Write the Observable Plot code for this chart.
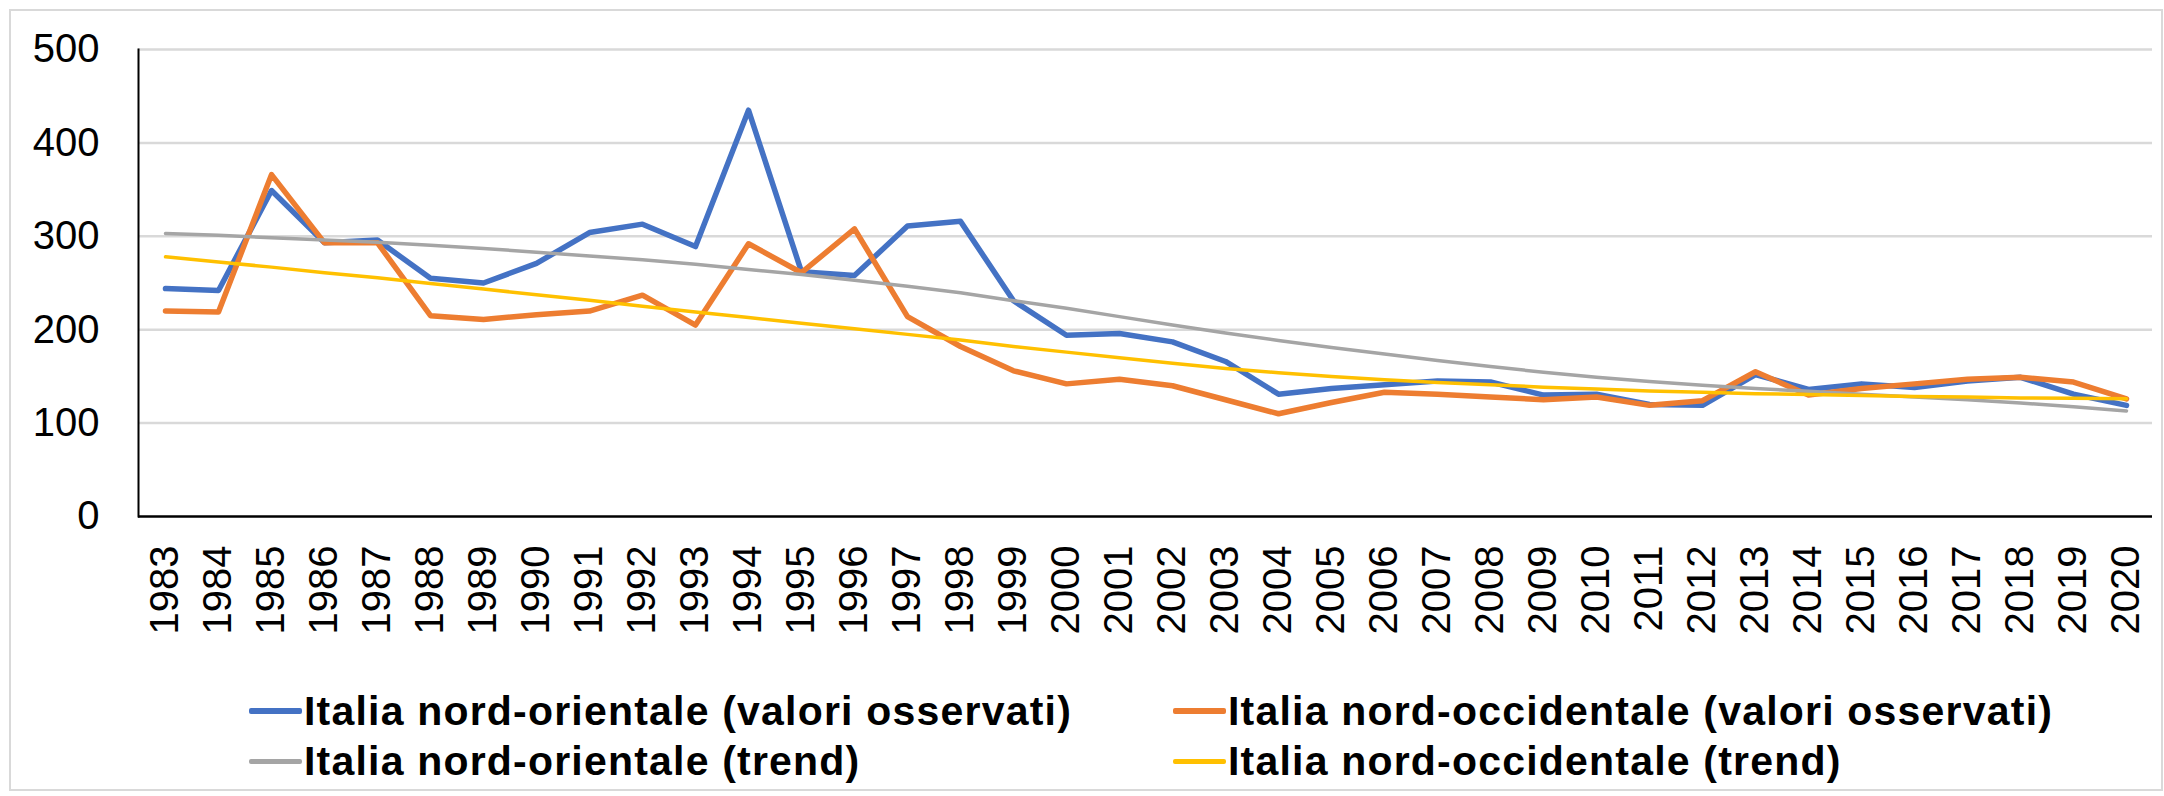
<!DOCTYPE html>
<html>
<head>
<meta charset="utf-8">
<script src="https://cdn.jsdelivr.net/npm/d3@7"></script>
<script src="https://cdn.jsdelivr.net/npm/@observablehq/plot@0.6"></script>
<style>
  html, body { margin: 0; padding: 0; background: #fff; }
  #wrap { position: relative; width: 2164px; height: 796px; overflow: hidden; font-family: "Liberation Sans", Arial, sans-serif; }
  #border { position: absolute; left: 9px; top: 9px; width: 2150px; height: 778px; border: 2px solid #d9d9d9; }
  #chart { position: absolute; left: 0; top: 0; }
  .item { position: absolute; display: flex; align-items: center; height: 50px; font-weight: bold; font-size: 41px; letter-spacing: 1.2px; color: #000; white-space: nowrap; }
  .sw { display: inline-block; width: 53px; margin-right: 2px; border-radius: 2px; }
</style>
</head>
<body>
<div id="wrap">
  <div id="border"></div>
  <div id="chart"></div>
  <div id="legend"></div>
</div>
<script>
const years = ["1983","1984","1985","1986","1987","1988","1989","1990","1991","1992","1993","1994","1995","1996","1997","1998","1999","2000","2001","2002","2003","2004","2005","2006","2007","2008","2009","2010","2011","2012","2013","2014","2015","2016","2017","2018","2019","2020"];

const nordOrientale = [244,242,349,293,296,255,250,271,304,313,289,435,262,258,311,316,231,194,196,187,166,131,137,141,145,144,130,131,120,119,152,136,142,138,145,149,131,119];
const nordOccidentale = [220,219,366,293,293,215,211,216,220,237,205,292,261,308,214,182,156,142,147,140,125,110,122,133,131,128,125,128,119,124,155,130,137,142,147,149,144,126];
const trendOrientale = [303,301,298.5,296,293.5,290.5,287,283,279,275,270,264.5,259,253,246.5,239.5,231,223,214,205,196.5,188.5,181,174,167,160.5,154.5,149,144.5,140.5,137,134,131,128,125,121.5,117.5,113];
const trendOccidentale = [278,272.5,267,261,255.5,249.5,243.5,237.5,231.5,225,219,213,207,201,195,189,182,176,170,164,158.5,154,150,146.5,143.5,141,138.5,136.5,134.5,133,131.5,130.5,129.5,128.5,128,127,126.5,126];

const seriesNames = [
  "Italia nord-orientale (valori osservati)",
  "Italia nord-occidentale (valori osservati)",
  "Italia nord-orientale (trend)",
  "Italia nord-occidentale (trend)"
];
const seriesColors = ["#4472C4", "#ED7D31", "#A5A5A5", "#FFC000"];
const yTicks = [0, 100, 200, 300, 400, 500];

const toRows = (vals) => years.map((y, i) => ({year: y, value: vals[i]}));

const lineOpts = (color, w) => ({x: "year", y: "value", stroke: color, strokeWidth: w, strokeLinejoin: "round", strokeLinecap: "round"});

const plot = Plot.plot({
  width: 2164,
  height: 660,
  marginLeft: 138,
  marginRight: 12,
  marginTop: 49,
  marginBottom: 144,
  style: {fontFamily: "'Liberation Sans', Arial, sans-serif", fontSize: "40px", color: "#000", background: "transparent"},
  x: {type: "point", domain: years, padding: 0.5, align: 0.5},
  y: {domain: [0, 500]},
  marks: [
    Plot.gridY(yTicks.filter(d => d > 0), {stroke: "#d9d9d9", strokeOpacity: 1, strokeWidth: 2.5}),
    Plot.axisY(yTicks, {tickSize: 0, tickPadding: 39, fontSize: 40, fill: "#000", label: null}),
    Plot.axisX({tickSize: 0, tickPadding: 29, tickRotate: -90, fontSize: 40, fill: "#000", label: null}),
    Plot.line(toRows(nordOrientale), lineOpts(seriesColors[0], 5.5)),
    Plot.line(toRows(nordOccidentale), lineOpts(seriesColors[1], 5.5)),
    Plot.line(toRows(trendOrientale), lineOpts(seriesColors[2], 3.5)),
    Plot.line(toRows(trendOccidentale), lineOpts(seriesColors[3], 3.5)),
    Plot.ruleY([0], {stroke: "#000", strokeWidth: 2.5}),
    Plot.frame({anchor: "left", stroke: "#000", strokeWidth: 2})
  ]
});
document.getElementById("chart").appendChild(plot);

// legend
const legPos = [
  {left: 249, top: 686}, {left: 1173, top: 686},
  {left: 249, top: 736}, {left: 1173, top: 736}
];
const leg = document.getElementById("legend");
seriesNames.forEach((name, i) => {
  const it = document.createElement("div");
  it.className = "item";
  it.style.left = legPos[i].left + "px";
  it.style.top = legPos[i].top + "px";
  const sw = document.createElement("span");
  sw.className = "sw";
  sw.style.background = seriesColors[i];
  sw.style.height = (i < 2 ? 6 : 5) + "px";
  const tx = document.createElement("span");
  tx.textContent = name;
  it.appendChild(sw);
  it.appendChild(tx);
  leg.appendChild(it);
});
</script>
</body>
</html>
